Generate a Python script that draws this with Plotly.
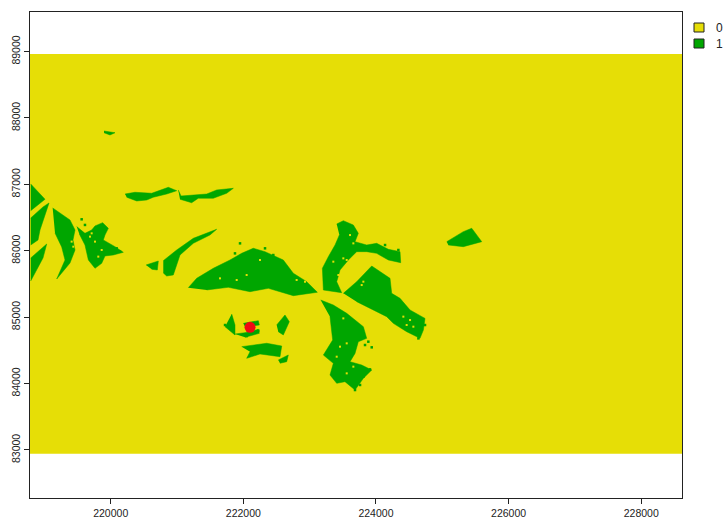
import plotly.graph_objects as go

YELLOW = "#E6DE06"
GREEN = "#00A600"

raster_x = [218783, 228615, 228615, 218783]
raster_y = [82944, 82944, 88964, 88964]

patches = {
    "A": ([218794, 219009, 218794], [87006, 86776, 86604]),
    "B": ([218794, 218979, 219070, 218934, 218904, 218794], [86494, 86660, 86720, 86313, 86163, 86087]),
    "C": ([218794, 218934, 219035, 218979, 218860, 218794], [85892, 86012, 86102, 85892, 85666, 85545]),
    "D": ([219125, 219386, 219462, 219431, 219462, 219386, 219186, 219311, 219261, 219160],
          [86645, 86464, 86313, 86163, 86012, 85816, 85575, 85861, 86057, 86268]),
    "E": ([219487, 219612, 219713, 219763, 219879, 219964, 219914, 219889, 220065, 220190, 220040, 219914, 219864, 219763, 219663, 219612, 219527],
          [86364, 86263, 86313, 86374, 86424, 86338, 86238, 86163, 86062, 85977, 85937, 85922, 85811, 85736, 85861, 86087, 86253]),
    "F": ([220216, 220366, 220618, 220869, 220995, 220844, 220642, 220543, 220392, 220241],
          [86855, 86881, 86866, 86956, 86905, 86855, 86806, 86765, 86750, 86806]),
    "G": ([221019, 221060, 221448, 221598, 221849, 221749, 221547, 221321, 221221, 221045],
          [86916, 86825, 86855, 86916, 86941, 86866, 86791, 86791, 86724, 86776]),
    "H": ([219899, 220065, 219989, 219899], [87804, 87778, 87744, 87778]),
    "I": ([220532, 220718, 220703, 220618], [85786, 85846, 85711, 85721]),
    "J": ([220793, 220995, 221246, 221598, 221497, 221246, 221045, 220944, 220844, 220793],
          [85851, 86012, 86188, 86324, 86238, 86113, 85937, 85636, 85620, 85666]),
    "K": ([221170, 221297, 221547, 221799, 221975, 222150, 222327, 222503, 222603, 222754, 222956, 223116, 222754, 222377, 222101, 221773, 221448],
          [85444, 85586, 85736, 85861, 85962, 86038, 85986, 85911, 85861, 85661, 85535, 85375, 85324, 85435, 85384, 85450, 85410]),
    "L": ([223408, 223508, 223659, 223734, 223684, 223860, 224011, 224187, 224363, 224373, 224187, 224011, 223860, 223709, 223584, 223458, 223408, 223483, 223207, 223192, 223282, 223383, 223448],
          [86403, 86453, 86388, 86263, 86137, 86087, 86112, 86022, 85987, 85821, 85861, 85961, 85987, 85987, 85861, 85710, 85535, 85369, 85409, 85736, 85911, 86087, 86238]),
    "M": ([223508, 223709, 223936, 224061, 224212, 224237, 224363, 224514, 224740, 224715, 224664, 224463, 224262, 224162, 223709],
          [85359, 85535, 85771, 85685, 85585, 85359, 85284, 85108, 84982, 84807, 84681, 84782, 84907, 85008, 85234]),
    "N": ([223166, 223357, 223559, 223709, 223810, 223860, 223734, 223684, 223609, 223785, 223936, 223810, 223684, 223533, 223408, 223307, 223357, 223207, 223347, 223307],
          [85259, 85183, 85058, 84932, 84857, 84681, 84631, 84455, 84330, 84280, 84204, 84079, 83903, 84029, 84004, 84129, 84305, 84430, 84656, 85008]),
    "O": ([221825, 221874, 221874, 221724], [85048, 84883, 84732, 84857]),
    "P1": ([222000, 222226, 222241, 222025], [84907, 84947, 84882, 84857]),
    "P2": ([221874, 222025, 222226, 222241, 222025], [84746, 84767, 84817, 84757, 84696]),
    "Q": ([222503, 222628, 222693, 222603, 222527], [84883, 85033, 84932, 84732, 84782]),
    "R": ([221975, 222353, 222579, 222553, 222251, 222051, 222101], [84556, 84607, 84566, 84405, 84446, 84381, 84480]),
    "S": ([222527, 222678, 222654, 222553], [84355, 84431, 84330, 84306]),
    "T": ([225067, 225317, 225444, 225595, 225317, 225091], [86137, 86288, 86339, 86137, 86062, 86087]),
}

green_speck_x = [223885, 223936, 223835, 223910, 223810, 223760, 223684, 221950, 221874, 222327, 222452,
                 224740, 224640, 224338, 224137, 221724, 222050, 222226, 219562, 219612, 220090, 220140]
green_speck_y = [84631, 84546, 84581, 84214, 84104, 83979, 83903, 86112, 85961, 86037, 85936,
                 84882, 84681, 86012, 86087, 84882, 84716, 84797, 86474, 86389, 86037, 85987]
yellow_speck_x = [222251, 222050, 221648, 221900, 222804, 222930, 223508, 223559, 223609, 223357, 223433,
                  223609, 223659, 223810, 223785, 224413, 224514, 224564, 224463, 223508, 223559, 223458,
                  223659, 223559, 223408, 219688, 219763, 219813, 219864, 219713, 219411, 219436]
yellow_speck_y = [85861, 85635, 85585, 85560, 85560, 85535, 85886, 85861, 85836, 85836, 85635,
                  86237, 86112, 85535, 85484, 85008, 84957, 84857, 84882, 84982, 84606, 84556,
                  84255, 84154, 84405, 86213, 86138, 85912, 86012, 86263, 86138, 86062]

point_x = [222101]
point_y = [84848]

x_ticks = [220000, 222000, 224000, 226000, 228000]
y_ticks = [83000, 84000, 85000, 86000, 87000, 88000, 89000]
legend_labels = ["0", "1"]
legend_colors = [YELLOW, GREEN]

fig = go.Figure()
fig.add_trace(go.Scatter(x=raster_x, y=raster_y, mode="lines", fill="toself",
                         fillcolor=YELLOW, line=dict(width=0), showlegend=False, hoverinfo="skip"))
for name, (px_, py_) in patches.items():
    fig.add_trace(go.Scatter(x=px_, y=py_, mode="lines", fill="toself", fillcolor=GREEN,
                             line=dict(width=0.5, color=GREEN), showlegend=False, name=name))
fig.add_trace(go.Scatter(x=green_speck_x, y=green_speck_y, mode="markers", showlegend=False,
                         marker=dict(symbol="square", size=2.5, color=GREEN)))
fig.add_trace(go.Scatter(x=yellow_speck_x, y=yellow_speck_y, mode="markers", showlegend=False,
                         marker=dict(symbol="square", size=2, color=YELLOW)))
fig.add_trace(go.Scatter(x=point_x, y=point_y, mode="markers",
                         marker=dict(color="#F00A14", size=11), showlegend=False))

axis_font = dict(family="Liberation Sans, Arial, sans-serif", size=10.5, color="#222222")
common = dict(showgrid=False, zeroline=False, showline=True, mirror=True, linecolor="#222222",
              linewidth=1, ticks="outside", ticklen=5, tickcolor="#222222", tickfont=axis_font)
fig.update_xaxes(range=[218783, 228615], tickvals=x_ticks, ticktext=[str(v) for v in x_ticks], **common)
fig.update_yaxes(range=[82277, 89596], tickvals=y_ticks, ticktext=[str(v) for v in y_ticks], tickangle=-90, **common)

plot_w, plot_h = 652, 486
for i, (label, color) in enumerate(zip(legend_labels, legend_colors)):
    top = 11 + 16 * i
    fig.add_shape(type="rect", xref="paper", yref="paper", layer="above",
                  x0=664 / plot_w, x1=674 / plot_w,
                  y0=1 - (top + 9) / plot_h, y1=1 - top / plot_h,
                  fillcolor=color, line=dict(color="#222222", width=1))
    fig.add_annotation(xref="paper", yref="paper", x=685 / plot_w, y=1 - (top + 5) / plot_h,
                       text=label, showarrow=False, xanchor="left", yanchor="middle",
                       borderpad=0, font=dict(family="Liberation Sans, Arial, sans-serif", size=12, color="#222222"))

fig.update_layout(
    width=724, height=520, autosize=False,
    margin=dict(l=30, r=42, t=12, b=22, autoexpand=False),
    plot_bgcolor="white", paper_bgcolor="white", showlegend=False,
)
fig.write_html("out.html", config=dict(displayModeBar=False),
               post_script="document.body.style.margin='0';document.documentElement.style.overflow='hidden';")
